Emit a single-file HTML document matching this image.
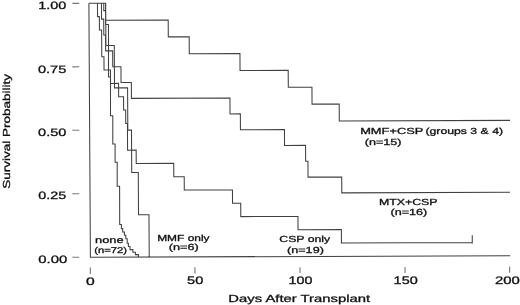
<!DOCTYPE html>
<html><head><meta charset="utf-8"><title>Survival Probability</title>
<style>html,body{margin:0;padding:0;background:#fff}svg{display:block;filter:grayscale(1)}text{font-family:"Liberation Sans",sans-serif;fill:#111;stroke:#111;stroke-width:0.3px;text-rendering:geometricPrecision}</style></head>
<body>
<svg width="520" height="305" viewBox="0 0 520 305">
<rect width="520" height="305" fill="#fff"/>
<g id="plot">
<path fill="none" stroke="#404040" stroke-width="1.05" stroke-linejoin="miter" d="M88.9 3.3 L90.4 257.2 L510.2 255.8 M88.9 3.3 L105.55 3.24 L105.65 20.17 L168.2 19.96 L168.3 36.89 L189.2 36.82 L189.3 53.75 L239.95 53.58 L240.05 70.5 L288.2 70.34 L288.3 87.27 L311.95 87.19 L312.05 104.12 L339.2 104.03 L339.3 120.95 L510 120.38 M88.9 3.3 L101.45 3.26 L101.55 19.13 L103.7 19.12 L103.8 34.99 L105.55 34.98 L105.65 50.85 L112.65 50.83 L112.75 66.7 L120.95 66.67 L121.05 82.54 L131.35 82.5 L131.45 98.37 L229.95 98.04 L230.05 113.91 L240.35 113.88 L240.45 129.75 L284.45 129.6 L284.55 145.47 L305.55 145.4 L305.65 161.27 L307.95 161.26 L308.05 177.13 L341.7 177.02 L341.8 192.88 L510 192.32 M88.9 3.3 L97.46 3.27 L97.54 16.63 L99.36 16.63 L99.44 29.99 L101.62 29.98 L101.78 56.71 L103.96 56.7 L104.04 70.07 L110.46 70.05 L110.54 83.41 L118.56 83.38 L118.64 96.74 L123.56 96.73 L123.64 110.09 L125.66 110.08 L125.74 123.45 L127.42 123.44 L127.58 150.17 L136.16 150.14 L136.24 163.5 L173.71 163.38 L173.79 176.74 L184.21 176.71 L184.29 190.07 L232.46 189.91 L232.54 203.27 L240.71 203.24 L240.79 216.61 L297.96 216.42 L298.04 229.78 L341.36 229.63 L341.44 243 L472.25 242.56 M88.9 3.3 L105.68 3.24 L105.92 45.56 L114.28 45.53 L114.52 87.85 L127.58 87.81 L127.82 130.12 L131.48 130.11 L131.72 172.43 L138.28 172.41 L138.52 214.72 L148.98 214.69 L149.22 257 M88.9 3.3 L103.75 3.2 L103.75 10.6 L105.6 10.6 L105.6 24.4 L108.5 24.4 L108.5 76.9 L110.5 76.9 L110.5 115.7 L112.8 115.7 L112.8 143.9 L115.1 143.9 L115.1 162.2 L117.2 162.2 L117.2 186.2 L119.6 186.2 L119.7 224.4 L121.4 224.4 L121.4 228.6 L122.7 228.6 L122.7 231.9 L124.4 231.9 L124.4 235.3 L125.8 235.3 L125.8 238.8 L127.2 238.8 L127.2 243.2 L128.4 243.2 L128.4 246.4 L130 246.4 L130 249.6 L132.9 249.6 L132.9 252.3 L135.4 252.3 L135.4 254.6 L138.4 254.6 L138.4 257.1 M472.25 235.3 L472.25 243.4"/>
<polyline fill="none" stroke="#777" stroke-width="1.1" stroke-linejoin="miter" points="72.3,3.36 79.3,3.33"/>
<polyline fill="none" stroke="#777" stroke-width="1.1" stroke-linejoin="miter" points="72.3,66.83 79.3,66.81"/>
<polyline fill="none" stroke="#777" stroke-width="1.1" stroke-linejoin="miter" points="72.3,130.31 79.3,130.28"/>
<polyline fill="none" stroke="#777" stroke-width="1.1" stroke-linejoin="miter" points="72.3,193.78 79.3,193.76"/>
<polyline fill="none" stroke="#777" stroke-width="1.1" stroke-linejoin="miter" points="72.3,257.26 79.3,257.24"/>
<polyline fill="none" stroke="#777" stroke-width="1.1" stroke-linejoin="miter" points="90.3,267.4 90.3,273.9"/>
<polyline fill="none" stroke="#777" stroke-width="1.1" stroke-linejoin="miter" points="194.95,267.3 194.95,273.5"/>
<polyline fill="none" stroke="#777" stroke-width="1.1" stroke-linejoin="miter" points="300,267.2 300,273.1"/>
<polyline fill="none" stroke="#777" stroke-width="1.1" stroke-linejoin="miter" points="405,266.9 405,273"/>
<polyline fill="none" stroke="#777" stroke-width="1.1" stroke-linejoin="miter" points="509.6,266.6 509.6,272.8"/>
</g>
<g id="labels">
<text transform="translate(38.19 8.6) scale(1.3459 1)" font-size="10.7">1.00</text>
<text transform="translate(37.96 72.6) scale(1.3620 1)" font-size="10.7">0.75</text>
<text transform="translate(38.06 136.3) scale(1.3570 1)" font-size="10.7">0.50</text>
<text transform="translate(38.37 199.4) scale(1.3421 1)" font-size="10.7">0.25</text>
<text transform="translate(38.3 263.3) scale(1.3943 1)" font-size="10.7">0.00</text>
<text transform="translate(86.03 285) scale(1.4417 1)" font-size="10.9">0</text>
<text transform="translate(187.12 284.4) scale(1.3370 1)" font-size="10.9">50</text>
<text transform="translate(288.6 283.9) scale(1.3095 1)" font-size="10.9">100</text>
<text transform="translate(393.59 283.6) scale(1.3271 1)" font-size="10.9">150</text>
<text transform="translate(494.95 283.5) scale(1.3683 1)" font-size="10.9">200</text>
<text transform="translate(228.31 301.5) scale(1.4397 1)" font-size="10.3">Days After Transplant</text>
<text transform="translate(360.17 133.7) scale(1.4590 1)" font-size="8.8">MMF+CSP</text>
<text transform="translate(425.47 133.6) scale(1.3914 1)" font-size="8.8">(groups 3 &amp; 4)</text>
<text transform="translate(364.75 144.5) scale(1.4298 1)" font-size="8.8">(n=15)</text>
<text transform="translate(378.91 204.6) scale(1.4033 1)" font-size="8.8">MTX+CSP</text>
<text transform="translate(390.45 215.4) scale(1.4298 1)" font-size="8.8">(n=16)</text>
<text transform="translate(279.29 242.3) scale(1.3934 1)" font-size="8.8">CSP only</text>
<text transform="translate(287.04 253.4) scale(1.4339 1)" font-size="8.8">(n=19)</text>
<text transform="translate(157.14 240.7) scale(1.3581 1)" font-size="8.8">MMF only</text>
<text transform="translate(168.84 250.4) scale(1.4398 1)" font-size="8.8">(n=6)</text>
<text transform="translate(95.03 242.8) scale(1.4575 1)" font-size="8.8">none</text>
<text transform="translate(94.22 252.6) scale(1.3452 1)" font-size="8.4">(n=72)</text>
<text transform="translate(9.5 188.64) rotate(-90) scale(1.3240 1)" font-size="10.2">Survival Probability</text>
</g>
</svg>
</body></html>
